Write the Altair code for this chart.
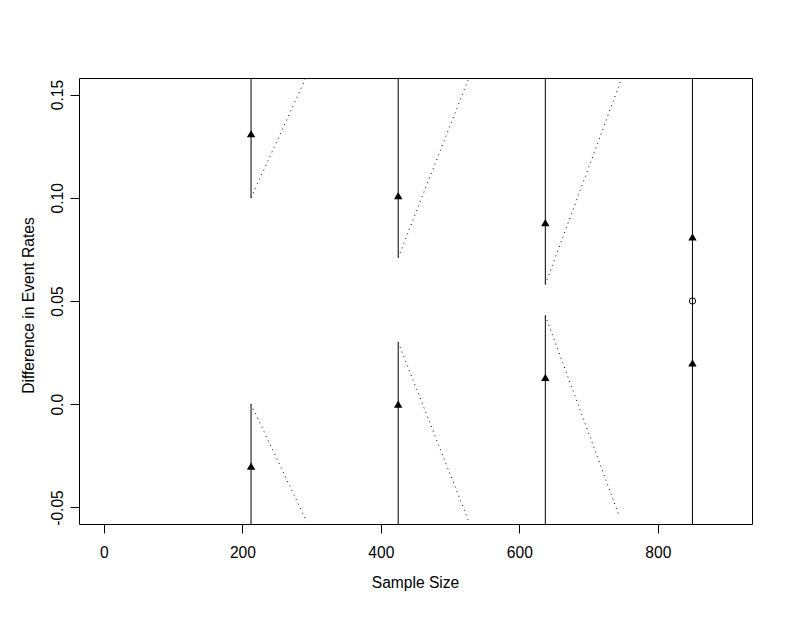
import altair as alt
import pandas as pd

# ---- data ----
stage_n = [212.5, 425.0, 637.5, 850.0]
upper_bound = [0.100, 0.071, 0.058]          # where the upper vertical segment starts
lower_bound = [0.000, 0.030, 0.043]          # where the lower vertical segment ends
upper_tri = [0.131, 0.101, 0.088, 0.081]
lower_tri = [-0.030, 0.000, 0.013, 0.020]
final_estimate = [0.050]

# dotted continuation lines (start x, start y, end x, end y)
dot_up_x0 = [212.5, 425.0, 637.5]
dot_up_y0 = [0.100, 0.071, 0.058]
dot_up_x1 = [293.0, 527.0, 748.0]
dot_up_y1 = [0.159, 0.158, 0.158]
dot_lo_x0 = [212.5, 425.0, 637.5]
dot_lo_y0 = [0.000, 0.030, 0.043]
dot_lo_x1 = [293.0, 526.0, 744.0]
dot_lo_y1 = [-0.057, -0.056, -0.054]

x_domain = [-36, 936]
y_domain = [-0.058, 0.158]
x_ticks = [0, 200, 400, 600, 800]
y_ticks = [-0.05, 0.0, 0.05, 0.10, 0.15]
y_tick_labels = ["-0.05", "0.0", "0.05", "0.10", "0.15"]

FONT = "Liberation Sans"
FS = 15.6

# ---- tables ----
seg_rows = []
for i in range(3):
    seg_rows.append({"x": stage_n[i], "y": upper_bound[i], "y2": y_domain[1]})
    seg_rows.append({"x": stage_n[i], "y": y_domain[0], "y2": lower_bound[i]})
seg_rows.append({"x": stage_n[3], "y": y_domain[0], "y2": y_domain[1]})
seg_df = pd.DataFrame(seg_rows)

dot_rows = []
for i in range(3):
    dot_rows.append({"x": dot_up_x0[i], "y": dot_up_y0[i], "x2": dot_up_x1[i], "y2": dot_up_y1[i]})
    dot_rows.append({"x": dot_lo_x0[i], "y": dot_lo_y0[i], "x2": dot_lo_x1[i], "y2": dot_lo_y1[i]})
dot_df = pd.DataFrame(dot_rows)

tri_df = pd.DataFrame({"x": stage_n + stage_n, "y": upper_tri + lower_tri})
est_df = pd.DataFrame({"x": [stage_n[3]], "y": final_estimate})

label_expr = ""
for v, lab in zip(y_ticks, y_tick_labels):
    label_expr += f"abs(datum.value - ({v})) < 1e-9 ? '{lab}' : "
label_expr += "''"

x_scale = alt.Scale(domain=x_domain, nice=False, zero=False)
y_scale = alt.Scale(domain=y_domain, nice=False, zero=False)

x_axis = alt.Axis(
    title="Sample Size", values=x_ticks, format="d", grid=False, domain=False,
    tickColor="black", tickSize=9, tickWidth=1,
    labelFont=FONT, labelFontSize=FS, labelColor="black",
    labelBaseline="alphabetic", labelPadding=24, labelAlign="center",
    titleFont=FONT, titleFontSize=FS, titleFontWeight="normal", titleColor="black",
    titleBaseline="alphabetic", titleY=63, titleX=336,
)
y_axis = alt.Axis(
    title="Difference in Event Rates", values=y_ticks, labelExpr=label_expr,
    grid=False, domain=False,
    tickColor="black", tickSize=9, tickWidth=1,
    labelFont=FONT, labelFontSize=FS, labelColor="black", labelAngle=-90,
    labelAlign="center", labelBaseline="alphabetic", labelPadding=8,
    titleFont=FONT, titleFontSize=FS, titleFontWeight="normal", titleColor="black",
    titleAngle=-90, titleAlign="center", titleBaseline="alphabetic", titleX=-46, titleY=227,
)

segs = alt.Chart(seg_df).mark_rule(color="black", strokeWidth=1, clip=True).encode(
    x=alt.X("x:Q", scale=x_scale, axis=x_axis),
    y=alt.Y("y:Q", scale=y_scale, axis=y_axis),
    y2="y2:Q",
)

dots = alt.Chart(dot_df).mark_rule(color="black", strokeWidth=1, strokeDash=[1, 4], clip=True).encode(
    x="x:Q", y="y:Q", x2="x2:Q", y2="y2:Q",
)

tris = alt.Chart(tri_df).mark_point(shape="triangle-up", filled=True, fill="black",
                                    opacity=1, size=70, strokeWidth=0).encode(
    x="x:Q", y="y:Q",
)

est = alt.Chart(est_df).mark_point(shape="circle", filled=False, stroke="black",
                                   opacity=1, size=40, strokeWidth=1).encode(
    x="x:Q", y="y:Q",
)

chart = alt.layer(segs, dots, tris, est).properties(
    width=673, height=446,
    autosize=alt.AutoSizeParams(type="none"),
    padding={"left": 71, "top": 70, "right": 30, "bottom": 80},
    background="white",
).configure_view(stroke="black", strokeWidth=1)

chart.save("out.html", embed_options={"renderer": "svg", "actions": False})
